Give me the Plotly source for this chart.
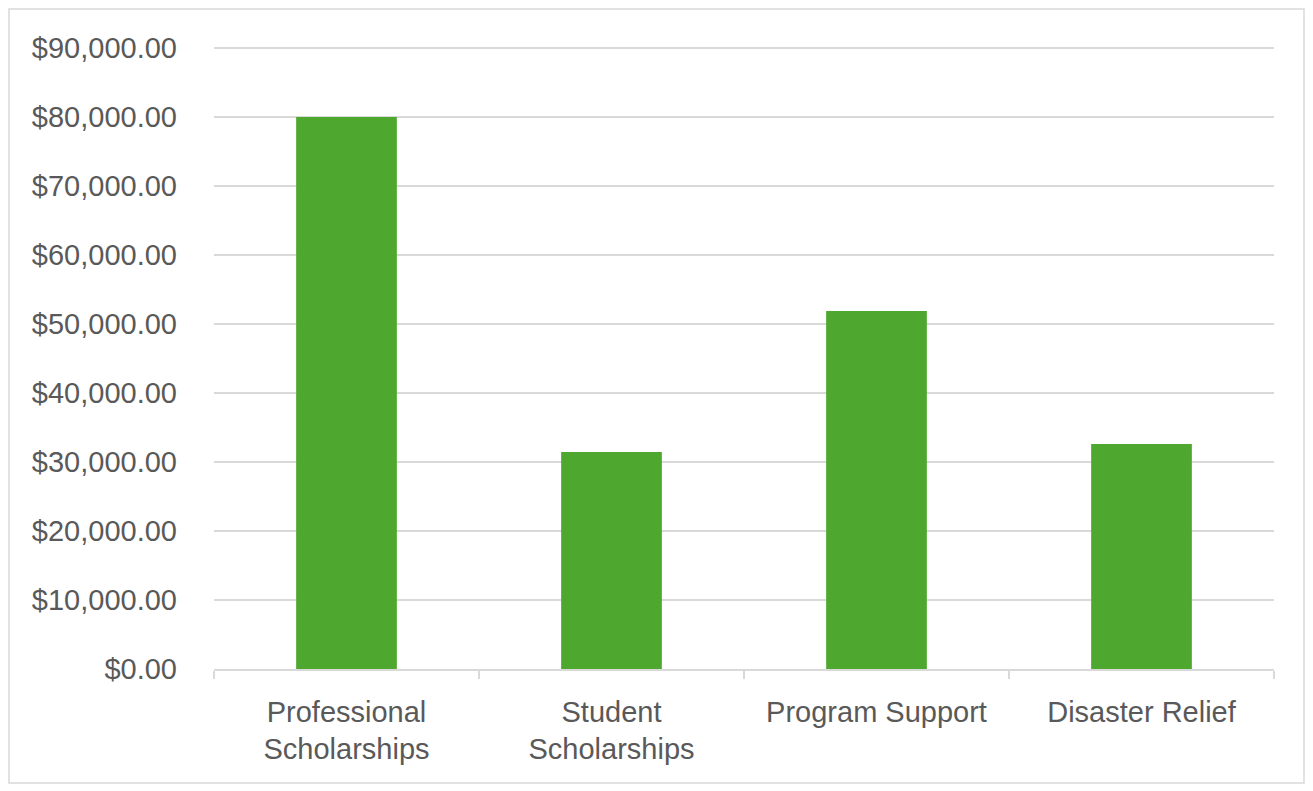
import plotly.graph_objects as go

categories = ["Professional<br>Scholarships", "Student<br>Scholarships", "Program Support", "Disaster Relief"]
values = [80000, 31450, 51900, 32600]
y_ticks = [0, 10000, 20000, 30000, 40000, 50000, 60000, 70000, 80000, 90000]
y_tick_labels = ["$" + f"{v:,.2f}" for v in y_ticks]

# page body has an 8px margin, so the figure is drawn in page coords minus 8
W, H = 1305, 783
L, R, T, B = 206, 39, 33, 122
y_top = 90000 * (H - T - B) / 621.0  # keep $90k gridline slightly inside the plot

fig = go.Figure(go.Bar(x=categories, y=values, marker=dict(color="#4EA72E", line=dict(width=0)), width=0.38))

fig.update_layout(
    width=W, height=H,
    margin=dict(l=L, r=R, t=T, b=B),
    paper_bgcolor="white", plot_bgcolor="white",
    font=dict(family="Liberation Sans, Arial, sans-serif", size=29, color="#595959"),
    showlegend=False,
)
fig.update_yaxes(
    range=[0, y_top], tickvals=y_ticks, ticktext=y_tick_labels,
    showgrid=True, gridcolor="#d9d9d9", gridwidth=1.5,
    zeroline=False, showline=False, ticks="", ticklabelstandoff=36,
)
fig.update_xaxes(
    showline=True, linecolor="#d9d9d9", linewidth=1.5,
    ticks="outside", tickson="boundaries", ticklen=8, tickcolor="#d9d9d9", tickwidth=1.5,
    showgrid=False, ticklabelstandoff=16,
)
fig.add_shape(type="rect", xref="paper", yref="paper",
              x0=(1 - L) / (W - L - R), x1=(1296 - L) / (W - L - R),
              y0=(H - B - 775) / (H - T - B), y1=(H - B - 1) / (H - T - B),
              line=dict(color="#d9d9d9", width=1.5), layer="below")
fig.write_html("out.html")
